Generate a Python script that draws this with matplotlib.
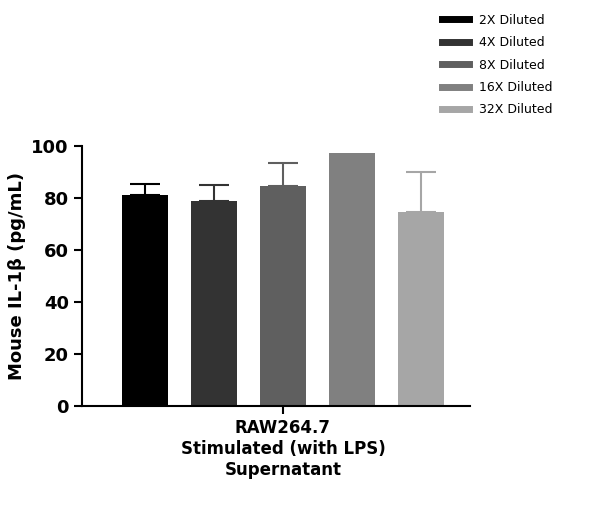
import numpy as np
import matplotlib.pyplot as plt
from matplotlib.lines import Line2D

labels = ["2X Diluted", "4X Diluted", "8X Diluted", "16X Diluted", "32X Diluted"]
values = [81, 79, 84.5, 97.5, 74.5]
errors = [4.5, 6, 9, 0, 15.5]
colors = ["#000000", "#333333", "#5f5f5f", "#808080", "#a6a6a6"]

fig = plt.figure(figsize=(5.98, 5.07), dpi=100)
ax = fig.add_axes([0.137, 0.199, 0.649, 0.513])

x = np.arange(len(values))
ax.bar(x, values, width=0.67, color=colors)
for xi, v, e, c in zip(x, values, errors, colors):
    if e > 0:
        ax.errorbar(xi, v, yerr=[[0], [e]], color=c, capsize=11, capthick=1.5, elinewidth=1.5)

ax.set_xlim(-0.91, 4.71)
ax.set_ylim(0, 100)
ax.set_yticks(range(0, 101, 20))
ax.set_xticks([2])
ax.set_xticklabels(["RAW264.7\nStimulated (with LPS)\nSupernatant"], fontsize=12, fontweight="bold")
ax.tick_params(axis="x", length=6, width=1.5)
ax.tick_params(axis="y", labelsize=13, width=1.5, length=6)
for t in ax.get_yticklabels():
    t.set_fontweight("bold")
ax.set_ylabel("Mouse IL-1β (pg/mL)", fontsize=13, fontweight="bold")
for s in ["top", "right"]:
    ax.spines[s].set_visible(False)
for s in ["left", "bottom"]:
    ax.spines[s].set_linewidth(1.5)

handles = [Line2D([0], [0], color=c, lw=5) for c in colors]
fig.legend(handles, labels, loc="upper left", bbox_to_anchor=(0.72, 0.995),
           frameon=False, fontsize=9, handlelength=2.2, labelspacing=0.75)

fig.savefig("out.png", dpi=100)
